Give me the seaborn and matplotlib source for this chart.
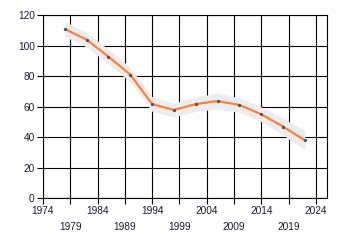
import matplotlib
matplotlib.use("Agg")
import matplotlib.pyplot as plt
import seaborn as sns
import numpy as np
import pandas as pd

years = [1978, 1982, 1986, 1990, 1994, 1998, 2002, 2006, 2010, 2014, 2018, 2022]
values = [110.8, 103.8, 92.7, 80.9, 61.6, 57.7, 61.6, 63.6, 61.0, 54.9, 46.8, 37.8]
band_half = [5.0, 4.8, 4.8, 4.8, 4.8, 4.5, 4.8, 5.2, 4.8, 4.8, 5.5, 6.5]
x_ticks = list(range(1974, 2025, 5))
y_ticks = [0, 20, 40, 60, 80, 100, 120]

df = pd.DataFrame({"year": years, "value": values, "half": band_half})

sns.set_style("white")
plt.rcParams['font.family'] = ['Liberation Sans', 'DejaVu Sans']

fig = plt.figure(figsize=(3.4, 2.45), dpi=100)
ax = fig.add_axes([43/340, 47/245, (326.7-43)/340, (198-15)/245])

ax.fill_between(df["year"], df["value"] - df["half"], df["value"] + df["half"],
                color="#ededed", linewidth=0, zorder=2)
sns.lineplot(data=df, x="year", y="value", ax=ax, color="#ff7f3f", linewidth=1.6,
             marker="o", markersize=1.6, markerfacecolor="#555555",
             markeredgecolor="#555555", zorder=3)

ax.set_xlim(1974, 2026)
ax.set_ylim(0, 120)
ax.set_xticks(x_ticks)
ax.set_xticklabels([str(t) if i % 2 == 0 else "\n" + str(t) for i, t in enumerate(x_ticks)])
for lbl in ax.get_xticklabels():
    lbl.set_linespacing(1.75)
ax.set_yticks(y_ticks)
ax.grid(True, color="black", linewidth=0.8, zorder=1)
ax.set_axisbelow(True)
for s in ax.spines.values():
    s.set_visible(True)
    s.set_color("black")
    s.set_linewidth(0.8)
ax.tick_params(axis="both", which="major", length=4, width=0.8, color="black",
               labelsize=7.3, labelcolor="#1a1a3a", pad=2, direction="out",
               bottom=True, left=True)
ax.set_xlabel("")
ax.set_ylabel("")

fig.savefig("out.png", dpi=100)
